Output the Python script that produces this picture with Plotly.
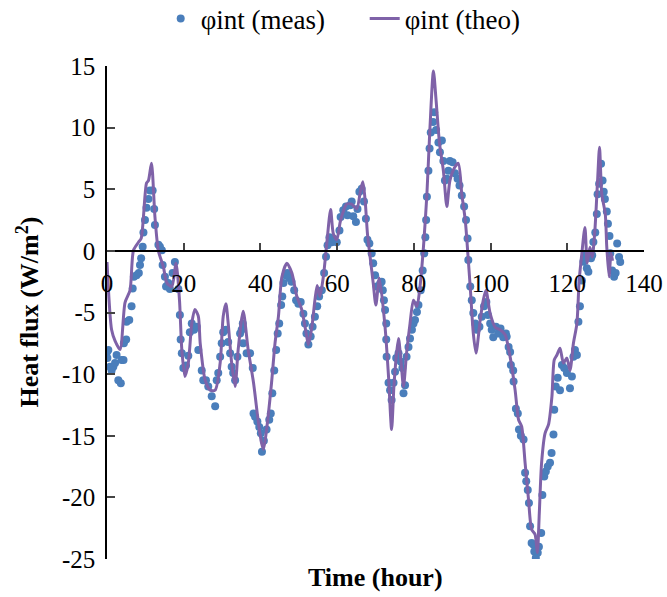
import plotly.graph_objects as go

# Theoretical curve (time in hours, heat flux W/m2)
theo_t = [0.0, 1.2, 2.1, 3.4, 4.7, 6.0, 6.9, 8.2, 8.9, 10.3, 10.8, 11.6, 12.5, 13.4, 14.7, 15.6, 16.9, 18.0,
          18.9, 19.5, 20.3, 21.2, 22.1, 22.9, 23.8, 24.3, 25.6, 26.9, 28.2, 29.5, 30.3, 31.0, 31.6, 32.5,
          33.4, 34.2, 35.5, 36.8, 38.2, 39.5, 40.3, 40.8, 41.6, 42.9, 43.8, 44.7, 45.6, 46.9, 48.2, 49.5,
          50.8, 52.1, 52.5, 53.4, 54.2, 54.8, 55.5, 56.4, 57.3, 58.3, 59.0, 59.9, 60.8, 61.6, 62.5, 63.8,
          65.1, 66.1, 66.7, 67.3, 67.9, 68.6, 69.4, 70.1, 71.0, 72.5, 73.4, 74.2, 74.8, 75.5, 76.0, 76.6,
          77.3, 78.1, 79.0, 79.9, 80.8, 81.6, 82.5, 83.4, 84.2, 85.1, 85.8, 86.7, 87.7, 88.6, 89.4, 90.7,
          91.6, 92.5, 93.4, 94.2, 94.8, 95.5, 96.2, 97.3, 98.1, 98.8, 99.9, 101.2, 102.5, 103.8, 105.1,
          106.4, 107.3, 108.1, 109.0, 109.9, 110.7, 111.6, 112.2, 112.7, 113.3, 114.2, 115.1, 116.0, 116.6,
          117.3, 118.1, 119.0, 119.9, 120.7, 121.6, 122.5, 123.1, 123.8, 124.6, 125.2, 125.9, 126.5, 127.2,
          127.9, 128.4, 129.0, 129.9, 130.3, 130.9, 131.4, 131.8]
theo_v = [-0.9, -6.4, -7.3, -8.0, -4.2, -3.2, 0.05, 0.7, 1.0, 5.5, 5.7, 7.1, 2.75, 0.0, -1.3, -2.6, -2.9, -1.0,
          -4.0, -8.0, -10.2, -9.1, -5.9, -4.75, -5.3, -7.5, -10.5, -11.3, -11.3, -9.1, -5.3, -4.3, -5.9, -9.1,
          -11.0, -8.0, -4.9, -8.0, -10.7, -14.0, -15.6, -16.1, -14.5, -10.7, -7.5, -5.3, -2.1, -1.0, -1.8, -3.7,
          -4.8, -7.0, -7.6, -6.2, -4.0, -2.8, -3.7, -2.1, 0.6, 3.35, 1.4, 0.9, 2.35, 3.2, 3.8, 3.8,
          3.4, 4.9, 5.6, 4.1, 1.4, -0.5, -2.6, -4.4, -2.2, -6.2, -10.2, -14.5, -11.0, -8.3, -7.1, -8.8,
          -11.0, -8.3, -5.9, -4.0, -4.5, -2.9, 0.3, 4.6, 10.0, 14.6, 12.2, 8.7, 6.5, 3.6, 5.7, 6.8,
          7.1, 4.6, 2.5, -0.75, -3.45, -6.7, -8.3, -5.6, -4.0, -3.2, -5.1, -6.2, -6.4, -6.8, -8.6,
          -11.3, -13.7, -14.25, -17.2, -20.2, -22.6, -23.0, -24.5, -21.3, -17.2, -14.8, -14.1, -11.8, -8.85,
          -8.45, -7.9, -9.1, -8.7, -9.7, -7.5, -5.9, -2.4, -0.2, 1.9, -1.0, 0.3, -0.5, 1.7,
          5.7, 8.4, 4.6, 3.0, 0.3, -2.1, -0.2, -0.8]

# Measured points
meas_t = [0.0, 0.35, 0.1, 0.8, 1.2, 1.65, 2.1, 2.5, 2.95, 3.6, 3.8, 4.3, 4.4, 5.0, 5.1, 5.8, 6.4, 6.7, 7.0, 7.7,
          8.3, 8.6, 8.9, 9.3, 9.5, 9.9, 10.3, 10.8, 11.2, 11.9, 12.3, 12.5, 13.4, 13.8, 14.3, 14.5, 15.1, 15.4,
          16.0, 16.4, 17.1, 17.7, 18.6, 19.0, 19.2, 19.5, 19.9, 20.6, 21.2, 21.6, 22.1, 22.7, 23.4, 23.8, 24.7,
          25.1, 25.8, 26.4, 27.3, 28.2, 28.6, 29.0, 29.5, 29.9, 30.3, 31.0, 31.6, 32.1, 32.5, 32.9, 33.4, 34.0,
          34.7, 35.1, 35.4, 35.5, 36.4, 37.3, 38.0, 38.2, 38.6, 39.2, 39.7, 40.1, 40.4, 40.9, 41.6, 42.3, 42.7,
          43.1, 43.6, 44.1, 44.5, 44.9, 45.4, 45.7, 46.0, 46.5, 47.0, 47.5, 48.1, 48.8, 49.3, 49.9, 50.5, 51.2,
          51.6, 52.0, 52.5, 53.1, 53.6, 54.2, 54.8, 55.3, 56.0, 56.6, 57.1, 57.5, 58.0, 58.6, 59.0, 59.9, 60.6,
          60.9, 61.6, 62.3, 62.7, 63.4, 63.8, 64.2, 64.9, 65.3, 65.8, 66.4, 67.0, 67.5, 67.9, 68.4, 69.0, 69.4,
          69.9, 70.3, 71.2, 71.6, 71.9, 72.2, 72.5, 72.8, 72.8, 72.9, 73.4, 73.8, 74.2, 74.7, 75.1, 75.4, 76.0,
          76.6, 77.0, 77.3, 77.7, 78.1, 78.6, 79.0, 79.5, 79.9, 80.3, 80.8, 81.2, 81.8, 82.3, 82.7, 83.0, 83.2,
          83.4, 83.8, 84.1, 84.4, 85.0, 85.3, 85.8, 86.4, 86.8, 87.3, 87.7, 88.1, 88.6, 89.0, 89.4, 90.1, 90.7,
          91.4, 91.9, 92.5, 93.1, 93.6, 94.0, 94.2, 94.7, 95.1, 95.5, 96.0, 96.4, 97.1, 97.7, 98.3, 98.9, 99.3,
          99.9, 100.3, 100.7, 101.4, 102.0, 102.6, 103.3, 104.0, 104.2, 104.7, 105.1, 105.3, 105.9, 106.0,
          106.6, 107.1, 107.4, 107.9, 108.6, 109.0, 109.3, 109.7, 110.0, 110.3, 110.7, 111.2, 111.4, 111.8,
          112.3, 112.6, 113.2, 113.5, 114.0, 114.4, 114.9, 115.5, 115.9, 116.4, 116.6, 117.0, 117.5, 118.1,
          118.6, 119.2, 119.9, 120.7, 121.2, 121.6, 122.0, 122.5, 122.9, 123.3, 123.8, 124.2, 124.6, 125.1,
          125.5, 126.2, 126.5, 126.8, 127.3, 127.7, 127.9, 128.3, 128.8, 129.2, 129.5, 129.8, 130.3, 130.6,
          131.0, 131.2, 131.7, 132.2, 132.6, 133.0, 133.5, 133.8]
meas_v = [-8.2, -8.05, -8.7, -9.4, -9.7, -9.4, -9.1, -8.45, -10.5, -10.75, -8.85, -8.85, -7.5, -7.2, -5.75,
          -5.6, -4.5, -3.05, -2.1, -1.97, -1.8, -1.15, -0.6, 0.34, 1.5, 2.5, 3.5, 4.2, 4.9, 4.9, 3.4, 2.1, 0.5,
          0.34, 0.06, -1.15, -2.1, -2.9, -2.6, -3.1, -1.8, -0.9, -3.1, -5.2, -7.2, -8.3, -9.5, -9.3, -8.5, -6.6,
          -5.9, -6.4, -6.15, -8.05, -9.7, -10.5, -10.5, -11.0, -11.8, -12.6, -10.5, -9.9, -8.6, -7.5, -6.6,
          -6.4, -7.4, -8.3, -9.4, -9.9, -10.5, -8.6, -6.7, -6.4, -5.9, -7.5, -8.3, -8.3, -9.5, -13.2, -13.45,
          -13.85, -14.3, -14.8, -16.3, -15.4, -14.5, -13.7, -13.2, -11.55, -9.7, -8.05, -6.7, -5.9, -4.4, -3.7,
          -2.6, -1.97, -1.8, -2.2, -2.5, -3.2, -4.0, -4.3, -4.15, -5.1, -5.9, -6.7, -7.6, -6.95, -6.15, -5.35,
          -4.5, -3.7, -3.2, -1.8, -0.48, 0.46, 1.1, 0.7, 1.0, 0.7, 1.65, 2.75, 3.3, 3.6, 2.9, 3.7, 4.0, 2.8,
          2.35, 3.4, 4.8, 5.05, 4.0, 2.6, 0.9, 0.6, -0.2, -1.0, -1.97, -2.9, -2.65, -2.5, -3.2, -4.0, -4.8,
          -5.9, -7.2, -8.6, -10.7, -11.3, -12.1, -10.7, -9.8, -8.7, -8.3, -9.0, -9.5, -11.55, -10.9, -8.6, -7.8,
          -7.1, -6.4, -5.9, -5.6, -4.95, -4.4, -3.2, -1.6, -0.2, 1.1, 2.5, 4.4, 6.5, 8.3, 9.6, 10.45, 11.25,
          9.8, 8.8, 8.0, 8.95, 7.3, 5.7, 5.85, 6.5, 7.3, 7.2, 6.3, 5.85, 5.3, 4.5, 3.6, 2.5, 1.0, -0.75, -2.9,
          -4.0, -5.05, -5.9, -6.4, -6.15, -5.35, -4.5, -4.15, -5.2, -5.9, -6.4, -7.0, -6.15, -6.7, -6.3, -7.0,
          -6.7, -6.95, -7.8, -8.2, -9.25, -9.7, -10.6, -12.8, -13.2, -14.5, -15.0, -15.3, -18.0, -18.7, -19.4,
          -20.45, -22.35, -23.7, -23.85, -24.4, -24.9, -24.5, -24.0, -22.9, -19.8, -18.3, -17.9, -17.5, -17.2,
          -16.4, -14.9, -12.9, -11.0, -10.3, -11.3, -9.25, -9.5, -9.9, -11.15, -10.2, -8.6, -8.05, -8.45, -5.75,
          -4.5, -2.4, -0.89, -0.35, -1.4, -1.7, -0.6, -0.35, 0.73, 1.5, 3.0, 4.6, 5.45, 7.07, 5.7, 4.8, 4.2,
          3.2, 2.2, 1.2, -0.2, -1.6, -2.1, -1.8, 0.6, -0.5, -0.9]

x_ticks = [0, 20, 40, 60, 80, 100, 120, 140]
y_ticks = [15, 10, 5, 0, -5, -10, -15, -20, -25]
y_tick_text = ["15", "10", "5", "0", "-5", "-10", "-15", "-20", "-25"]

FONT = "Liberation Serif, Times New Roman, serif"

fig = go.Figure()
fig.add_trace(go.Scatter(x=meas_t, y=meas_v, mode="markers", name="φint (meas)",
                         marker=dict(color="#4A7EBB", size=8)))
fig.add_trace(go.Scatter(x=theo_t, y=theo_v, mode="lines", name="φint (theo)",
                         line=dict(color="#7F62A8", width=3, shape="spline", smoothing=0.7)))

fig.update_layout(
    width=667, height=597,
    margin=dict(l=107, r=23, t=66, b=38, autoexpand=False),
    paper_bgcolor="white", plot_bgcolor="white",
    font=dict(family=FONT, size=25, color="black"),
    showlegend=True,
    legend=dict(orientation="h", x=0.1, xanchor="left", y=1.145, yanchor="top",
                font=dict(size=27), traceorder="normal", itemwidth=30, entrywidth=159,
                bgcolor="rgba(0,0,0,0)"),
    xaxis=dict(range=[0, 140], tickvals=x_ticks, ticks="inside", ticklen=7, tickwidth=1.5,
               showline=True, linecolor="black", linewidth=1.5, showgrid=False, zeroline=False,
               anchor="free", position=0.625, ticklabelstandoff=10, automargin=False,
               tickfont=dict(family=FONT, size=25)),
    yaxis=dict(range=[-25, 15], tickvals=y_ticks, ticktext=y_tick_text, ticks="inside", ticklen=8,
               tickwidth=1.5, showline=True, linecolor="black", linewidth=1.5, showgrid=False,
               zeroline=False, ticklabelstandoff=5, automargin=False,
               tickfont=dict(family=FONT, size=25)),
    annotations=[
        dict(text="<b>Time (hour)</b>", x=0.5, y=-0.038, xref="paper", yref="paper",
             xanchor="center", yanchor="middle", showarrow=False, font=dict(family=FONT, size=26)),
        dict(text="<b>Heat flux (W/m<sup>2</sup>)</b>", x=-0.147, y=0.5, xref="paper", yref="paper",
             xanchor="center", yanchor="middle", textangle=-90, showarrow=False,
             font=dict(family=FONT, size=26)),
    ],
)

fig.write_html("out.html")
